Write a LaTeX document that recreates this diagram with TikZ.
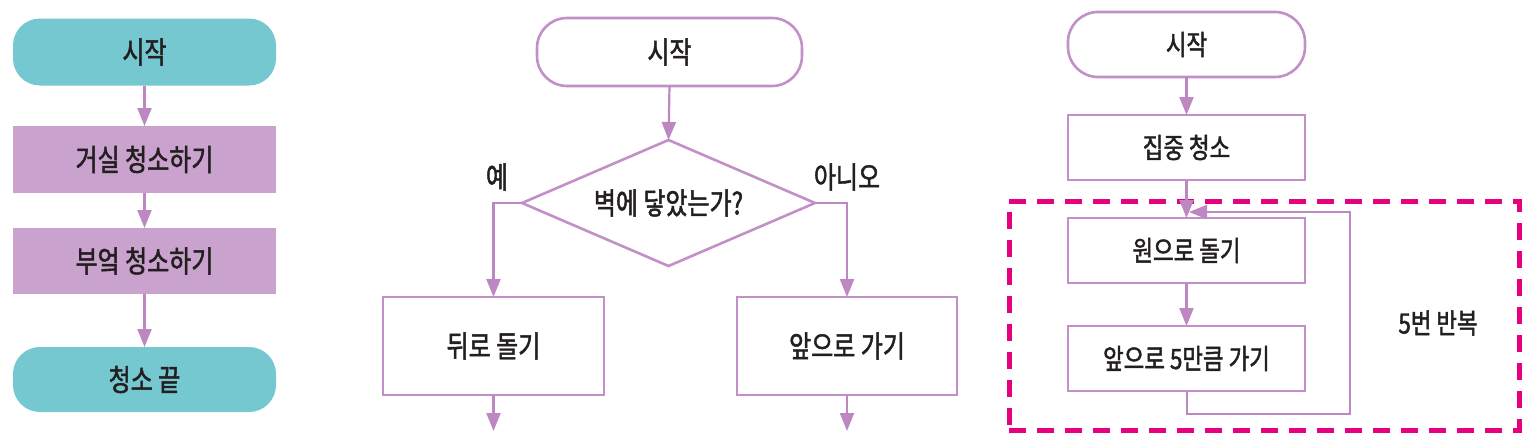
\documentclass[tikz,border=0pt]{standalone}
\usepackage{fontspec}
\usetikzlibrary{shapes.geometric,arrows.meta}
\newfontfamily\kr[FakeStretch=0.8,FakeBold=1.6]{Noto Sans CJK KR}
\definecolor{tealfill}{HTML}{75C8CF}
\definecolor{purfill}{HTML}{C9A2CD}
\definecolor{purline}{HTML}{C28FC8}
\definecolor{arrcol}{HTML}{BD88C2}
\definecolor{mag}{HTML}{E5007E}
\definecolor{txt}{HTML}{231F20}
\tikzset{
  base/.style={rectangle, inner sep=0pt, outer sep=0pt, text=txt, font=\kr\fontsize{30}{32}\selectfont},
  termfill/.style={base, fill=tealfill, rounded corners=27pt, minimum width=263pt, minimum height=67pt},
  procfill/.style={base, fill=purfill, minimum width=263pt, minimum height=67pt},
  termline/.style={base, draw=purline, line width=2.6pt, fill=white, rounded corners=30pt},
  procline/.style={base, draw=purline, line width=2.6pt, fill=white},
  decision/.style={diamond, shape aspect=2.33, inner sep=0pt, outer sep=0pt, draw=purline, line width=2.6pt, text=txt,
     font=\kr\fontsize{30}{32}\selectfont, minimum width=293pt, minimum height=126pt},
  lbl/.style={inner sep=0pt, text=txt, font=\kr\fontsize{30}{32}\selectfont},
  arr/.style={draw=arrcol, line width=2.2pt, -{Triangle[width=14pt,length=18pt]}},
  loopbox/.style={rectangle, draw=mag, line width=5pt, dash pattern=on 17pt off 11pt, minimum width=510pt, minimum height=229pt, inner sep=0pt},
}
\begin{document}
\begin{tikzpicture}[x=1pt,y=-1pt]
\useasboundingbox (0,0) rectangle (1532,447);
% ---------- left panel ----------
\node[termfill] (L1) at (144.5,52) {시작};
\node[procfill] (L2) at (144.5,159.5) {거실 청소하기};
\node[procfill, minimum height=66pt] (L3) at (144.5,261) {부엌 청소하기};
\node[termfill, minimum height=65pt] (L4) at (144.5,379.5) {청소 끝};
\draw[arr] (L1.south) -- (L2.north);
\draw[arr] (L2.south) -- (L3.north);
\draw[arr] (L3.south) -- (L4.north);
% ---------- middle panel ----------
\node[termline, minimum width=265pt, minimum height=68pt] (M1) at (669.5,52) {시작};
\node[decision] (D) at (668.5,203) {벽에 닿았는가?};
\node[lbl] (yes) at (497,177) {예};
\node[lbl] (no) at (847,177) {아니오};
\node[procline, minimum width=221pt, minimum height=98pt] (M2) at (493.5,346) {뒤로 돌기};
\node[procline, minimum width=220pt, minimum height=98pt] (M3) at (847,346) {앞으로 가기};
\coordinate (M2out) at (493.5,431);
\coordinate (M3out) at (847,431);
\draw[arr] (M1.south) -- (D.north);
\draw[arr] (D.west) -| (M2.north);
\draw[arr] (D.east) -| (M3.north);
\draw[arr] (M2.south) -- (M2out);
\draw[arr] (M3.south) -- (M3out);
% ---------- right panel ----------
\node[loopbox] (LB) at (1264,315.5) {};
\node[lbl, font=\kr\fontsize{28}{30}\selectfont] (rep) at (1438,323) {5번 반복};
\tikzset{rbox/.style={procline, font=\kr\fontsize{28}{30}\selectfont, minimum width=237pt, minimum height=65pt}}
\node[termline, font=\kr\fontsize{28}{30}\selectfont, minimum width=237pt, minimum height=65pt] (R1) at (1186.5,44.5) {시작};
\node[rbox] (R2) at (1186.5,147.5) {집중 청소};
\node[rbox] (R3) at (1186.5,250.5) {원으로 돌기};
\node[rbox] (R4) at (1186.5,358.5) {앞으로 5만큼 가기};
\draw[arr] (R1.south) -- (R2.north);
\draw[arr] (R2.south) -- (R3.north);
\draw[arr] (R3.south) -- (R4.north);
\coordinate (lp1) at (1350,414);
\coordinate (lp2) at (1350,212);
\coordinate (lpend) at (1189,212);
\draw[arr, line width=2pt] (R4.south) |- (lp1) -- (lp2) -- (lpend);
\end{tikzpicture}
\end{document}
